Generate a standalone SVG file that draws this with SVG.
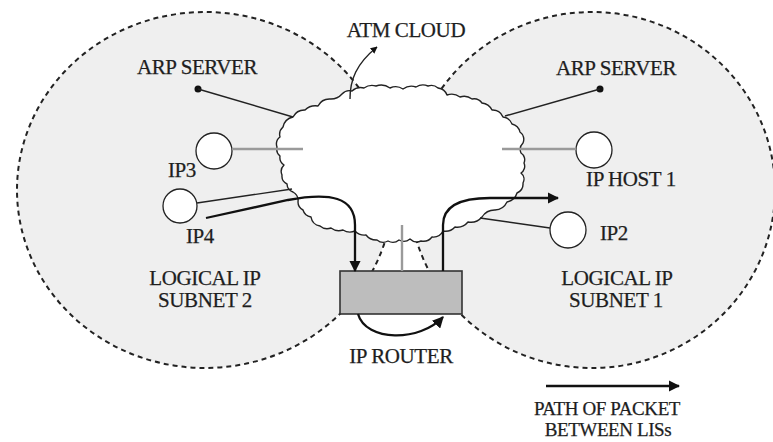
<svg xmlns="http://www.w3.org/2000/svg" width="773" height="442" viewBox="0 0 773 442">
  <defs>
    <style>
      .lis { fill: #efefef; stroke: #222; stroke-width: 2; stroke-dasharray: 5 4; }
      .cloud { fill: #fff; stroke: #222; stroke-width: 1.4; stroke-linejoin: round; }
      .host { fill: #fff; stroke: #222; stroke-width: 1.3; }
      .wire { fill: none; stroke: #222; stroke-width: 1.4; }
      .grey { fill: none; stroke: #9a9a9a; stroke-width: 2.4; }
      .path { fill: none; stroke: #111; stroke-width: 2.3; }
      .router { fill: #bdbdbd; stroke: #333; stroke-width: 1.6; }
      text { font-family: "Liberation Serif", "Times New Roman", serif; font-size: 21px; fill: #1e1e1e; stroke: #1e1e1e; stroke-width: 0.25; text-anchor: middle; letter-spacing: -0.4px; }
      .legend-text { font-size: 19px; }
    </style>
    <marker id="arrow" viewBox="0 0 10 10" refX="9" refY="5" markerWidth="5" markerHeight="5" orient="auto" markerUnits="strokeWidth">
      <path d="M0,0 L10,5 L0,10 Z" fill="#111"/>
    </marker>
  </defs>

  <!-- logical IP subnets -->
  <g id="subnet2">
    <ellipse class="lis" cx="205" cy="190" rx="188" ry="178"/>
    <text x="205" y="285">LOGICAL IP</text>
    <text x="205" y="307">SUBNET 2</text>
  </g>
  <g id="subnet1">
    <ellipse class="lis" cx="592" cy="190" rx="183" ry="178"/>
    <text x="617" y="285">LOGICAL IP</text>
    <text x="616" y="307">SUBNET 1</text>
  </g>

  <!-- ATM cloud: wiggly outline built from shallow arcs -->
  <g id="atm-cloud">
    <path class="cloud" d="M293,117 A13,13 0 0 1 305,110 A15,15 0 0 1 318,106 A13,13 0 0 1 330,99 A15,15 0 0 0 342,94 A10,10 0 0 1 352,91 A13,13 0 0 1 364,88 A14,14 0 0 1 376,86 A15,15 0 0 1 390,88 A13,13 0 0 1 403,89 A14,14 0 0 1 416,87 A13,13 0 0 1 428,86 A10,10 0 0 1 438,88 A11,11 0 0 1 447,95 A14,14 0 0 1 460,97 A13,13 0 0 1 472,99 A10,10 0 0 1 482,103 A13,13 0 0 1 492,110 A11,11 0 0 1 503,117 A11,11 0 0 1 512,124 A11,11 0 0 1 520,132 A9,9 0 0 1 523,143 A9,9 0 0 0 521,153 A8,8 0 0 1 524,163 A8,8 0 0 1 521,173 A8,8 0 0 1 523,183 A10,10 0 0 1 517,193 A13,13 0 0 1 507,202 A14,14 0 0 1 495,210 A15,15 0 0 0 482,217 A15,15 0 0 1 468,222 A14,14 0 0 1 455,227 A13,13 0 0 1 443,231 A11,11 0 0 1 432,237 A11,11 0 0 1 421,241 A10,10 0 0 1 410,239 A10,10 0 0 1 399,240 A10,10 0 0 1 388,241 A10,10 0 0 1 377,240 A13,13 0 0 1 366,235 A13,13 0 0 1 355,231 A13,13 0 0 1 343,230 A13,13 0 0 1 331,228 A11,11 0 0 1 320,226 A11,11 0 0 1 311,217 A10,10 0 0 1 303,210 A9,9 0 0 1 298,202 A10,10 0 0 0 293,192 A9,9 0 0 1 287,184 A9,9 0 0 1 282,175 A9,9 0 0 1 284,165 A9,9 0 0 1 280,156 A9,9 0 0 1 277,147 A9,9 0 0 1 280,137 A10,10 0 0 1 283,127 A13,13 0 0 1 293,117 Z"/>
    <text x="406" y="37">ATM CLOUD</text>
  </g>

  <!-- IP router -->
  <g id="ip-router">
    <rect class="router" x="340" y="271" width="122" height="43"/>
    <text x="401" y="363">IP ROUTER</text>
  </g>

  <!-- ARP servers -->
  <g id="arp-server-2">
    <circle cx="198" cy="89" r="3.5" fill="#111"/>
    <text x="197" y="74">ARP SERVER</text>
  </g>
  <g id="arp-server-1">
    <circle cx="600" cy="89" r="3.5" fill="#111"/>
    <text x="616" y="75">ARP SERVER</text>
  </g>

  <!-- hosts -->
  <g id="ip3">
    <circle class="host" cx="214" cy="151" r="18"/>
    <text x="182" y="177">IP3</text>
  </g>
  <g id="ip4">
    <circle class="host" cx="180" cy="206" r="17"/>
    <text x="200" y="243">IP4</text>
  </g>
  <g id="ip-host-1">
    <circle class="host" cx="594" cy="150" r="18"/>
    <text x="631" y="186">IP HOST 1</text>
  </g>
  <g id="ip2">
    <circle class="host" cx="568" cy="230" r="18"/>
    <text x="614" y="240">IP2</text>
  </g>

  <!-- connectors -->
  <g id="connectors">
    <line class="wire" x1="198" y1="89" x2="293" y2="117"/>
    <line class="wire" x1="600" y1="89" x2="505" y2="116"/>
    <line class="grey" x1="232" y1="149" x2="303" y2="149"/>
    <line class="grey" x1="502" y1="149" x2="576" y2="149"/>
    <line class="grey" x1="402" y1="225" x2="402" y2="271"/>
    <line class="wire" x1="197" y1="203" x2="292" y2="189"/>
    <line class="wire" x1="550" y1="228" x2="480" y2="218"/>
    <path class="wire" d="M350,99 C350,80 356,64 377,47" marker-end="url(#arrow)" stroke-width="1.6"/>
    <path class="path" d="M206,218 L288,200 C330,192 355,197 355,225 L355,271" marker-end="url(#arrow)"/>
    <path class="path" d="M443,271 L443,225 C443,206 460,198 490,198 L558,198" marker-end="url(#arrow)"/>
    <path class="path" d="M358,314 C366,342 420,342 443,317" marker-end="url(#arrow)"/>
  </g>

  <!-- legend -->
  <g id="legend">
    <line class="path" x1="546" y1="386" x2="679" y2="386" marker-end="url(#arrow)"/>
    <text class="legend-text" x="607" y="415">PATH OF PACKET</text>
    <text class="legend-text" x="608" y="436">BETWEEN LISs</text>
  </g>
</svg>
